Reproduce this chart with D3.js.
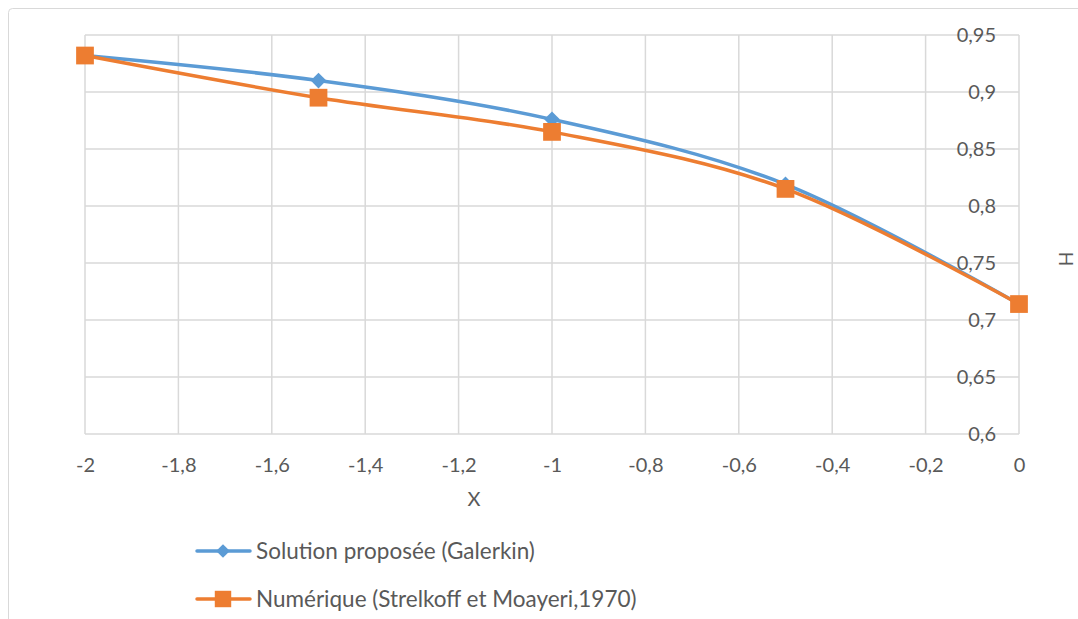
<!DOCTYPE html>
<html>
<head>
<meta charset="utf-8">
<script src="https://cdn.jsdelivr.net/npm/d3@7"></script>
<style>
  html, body { margin: 0; padding: 0; background: #fff; }
  svg { display: block; }
  text { font-family: Lato, "Open Sans", sans-serif; fill: #595959; }
</style>
</head>
<body>
<svg id="chart" width="1078" height="619"></svg>
<script>
// Free-surface height H along X
const xValues = [-2, -1.5, -1, -0.5, 0];
const galerkin = [0.932, 0.910, 0.876, 0.819, 0.714];
const numerique = [0.932, 0.895, 0.865, 0.815, 0.714];

const seriesNames = ["Solution proposée (Galerkin)", "Numérique (Strelkoff et Moayeri,1970)"];
const seriesColors = ["#5B9BD5", "#ED7D31"];

const xTicks = [-2, -1.8, -1.6, -1.4, -1.2, -1, -0.8, -0.6, -0.4, -0.2, 0];
const yTicks = [0.6, 0.65, 0.7, 0.75, 0.8, 0.85, 0.9, 0.95];

const fmt = v => String(+v.toFixed(2)).replace(".", ",");

const svg = d3.select("#chart");

// outer chart frame
svg.append("rect")
  .attr("x", 8.5).attr("y", 8.5)
  .attr("width", 1100).attr("height", 700)
  .attr("rx", 4)
  .attr("fill", "#fff")
  .attr("stroke", "#d9d9d9")
  .attr("stroke-width", 1);

const x = d3.scaleLinear().domain([-2, 0]).range([85, 1019]);
const y = d3.scaleLinear().domain([0.6, 0.95]).range([434, 35]);

// gridlines
const grid = svg.append("g");
grid.selectAll("line.v").data(xTicks).join("line")
  .attr("x1", d => x(d)).attr("x2", d => x(d))
  .attr("y1", y(0.95)).attr("y2", y(0.6))
  .attr("stroke", "#d9d9d9").attr("stroke-width", 1.5);
grid.selectAll("line.h").data(yTicks).join("line")
  .attr("x1", x(-2)).attr("x2", x(0))
  .attr("y1", d => y(d)).attr("y2", d => y(d))
  .attr("stroke", "#d9d9d9").attr("stroke-width", 1.5);

// x axis labels
const xAxis = d3.axisBottom(x).tickValues(xTicks).tickSize(0).tickPadding(24).tickFormat(fmt);
const gx = svg.append("g").attr("transform", `translate(0,${y(0.6)})`).call(xAxis);
gx.select(".domain").remove();
gx.selectAll("text").attr("font-size", 20).attr("fill", "#595959")
  .style("font-family", "Lato, 'Open Sans', sans-serif");

// y axis labels (axis sits at X = 0, labels on its left)
const yAxis = d3.axisLeft(y).tickValues(yTicks).tickSize(0).tickPadding(23).tickFormat(fmt);
const gy = svg.append("g").attr("transform", `translate(${x(0)},0)`).call(yAxis);
gy.select(".domain").remove();
gy.selectAll("text").attr("font-size", 20).attr("fill", "#595959")
  .style("font-family", "Lato, 'Open Sans', sans-serif");

// axis titles
svg.append("text").attr("x", 474).attr("y", 506)
  .attr("text-anchor", "middle").attr("font-size", 20).text("X");
svg.append("text")
  .attr("transform", "translate(1066,259) rotate(90)")
  .attr("text-anchor", "middle").attr("dy", "0.35em")
  .attr("font-size", 19).text("H");

// series
const line = d3.line()
  .x(d => x(d[0])).y(d => y(d[1]))
  .curve(d3.curveCatmullRom.alpha(0));

const series = [galerkin, numerique];
const diamond = d3.symbol().type(d3.symbolDiamond2).size(155);
const square = d3.symbol().type(d3.symbolSquare).size(315);

series.forEach((vals, i) => {
  const pts = xValues.map((xv, j) => [xv, vals[j]]);
  const g = svg.append("g");
  g.append("path").attr("d", line(pts))
    .attr("fill", "none").attr("stroke", seriesColors[i])
    .attr("stroke-width", 3.5).attr("stroke-linejoin", "round").attr("stroke-linecap", "round");
  g.selectAll("path.m").data(pts).join("path")
    .attr("transform", d => `translate(${x(d[0])},${y(d[1])})`)
    .attr("d", i === 0 ? diamond() : square())
    .attr("fill", seriesColors[i]);
});

// legend
const legendDiamond = d3.symbol().type(d3.symbolDiamond2).size(120);
const legendSquare = d3.symbol().type(d3.symbolSquare).size(270);
const legend = svg.append("g");
seriesNames.forEach((name, i) => {
  const ly = 551 + i * 48;
  legend.append("line").attr("x1", 197).attr("x2", 250).attr("y1", ly).attr("y2", ly)
    .attr("stroke", seriesColors[i]).attr("stroke-width", 3.5).attr("stroke-linecap", "round");
  legend.append("path")
    .attr("transform", `translate(223,${ly})`)
    .attr("d", i === 0 ? legendDiamond() : legendSquare())
    .attr("fill", seriesColors[i]);
  legend.append("text").attr("x", 256).attr("y", ly + 7.5)
    .attr("font-size", 22.5).text(name);
});
</script>
</body>
</html>
